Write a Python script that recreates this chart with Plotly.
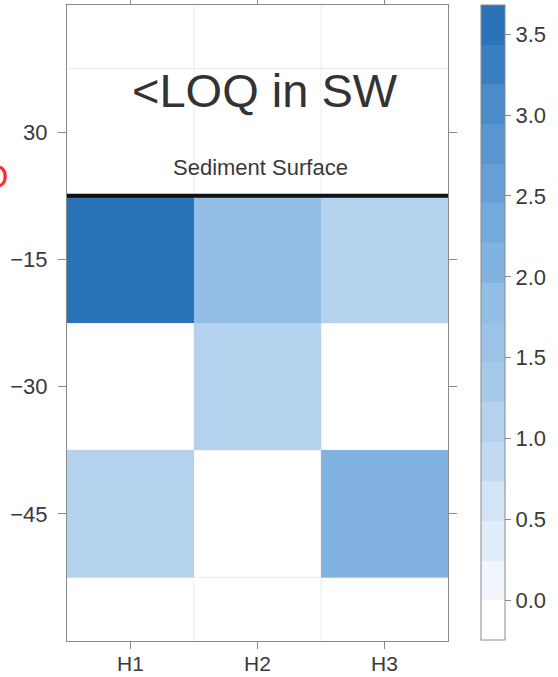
import plotly.graph_objects as go

# Sampling sites and depth levels (cm); the top level is the surface-water sample
sites = ["H1", "H2", "H3"]
depth_labels = ["−45", "−30", "−15", "30"]

# Concentrations per site, ordered by depth level (−45, −30, −15, 30); None = not detected
conc_H1 = [1.1, None, 3.5, None]
conc_H2 = [None, 1.1, 1.8, None]
conc_H3 = [2.05, None, 1.1, None]

# Colour key: 16 equal bands between these limits
z_low, z_high = -0.245, 3.68
band_colors = [
    (255, 255, 255), (240, 246, 252), (225, 237, 249), (210, 228, 245),
    (195, 219, 241), (180, 210, 237), (166, 201, 233), (156, 195, 231),
    (146, 189, 228), (130, 179, 224), (116, 170, 220), (102, 160, 214),
    (89, 150, 207), (74, 139, 200), (58, 127, 192), (42, 115, 184),
]
key_ticks = [0.0, 0.5, 1.0, 1.5, 2.0, 2.5, 3.0, 3.5]

n = len(band_colors)
colorscale = []
for i, (r, g, b) in enumerate(band_colors):
    c = f"rgb({r},{g},{b})"
    colorscale.append([i / n, c])
    colorscale.append([(i + 1) / n, c])

xs = list(range(len(sites)))
ys = list(range(len(depth_labels)))
by_site = [conc_H1, conc_H2, conc_H3]
z = [[by_site[j][i] for j in xs] for i in ys]

FONT = "Liberation Sans, Arial, Helvetica, sans-serif"
TXT = "#3a3a3a"
AX = "#8a8a8a"

fig = go.Figure()
fig.add_trace(go.Heatmap(
    x=xs, y=ys, z=z,
    zmin=z_low, zmax=z_high,
    colorscale=colorscale,
    hoverongaps=False,
    colorbar=dict(
        x=(481 - 67) / 381, xanchor="left", xpad=0,
        y=1.0, yanchor="top", ypad=0,
        lenmode="pixels", len=635,
        thickness=24,
        outlinecolor=AX, outlinewidth=1,
        tickvals=key_ticks,
        ticktext=[f"{v:.1f}" for v in key_ticks],
        ticks="outside", ticklen=6, tickcolor=AX,
        tickfont=dict(family=FONT, size=22, color=TXT),
    ),
))

# Light grid along the cell boundaries
grid = dict(color="#ececec", width=1)
shapes = []
for k in xs[:-1]:
    shapes.append(dict(type="line", xref="x", yref="y", x0=k + 0.5, x1=k + 0.5,
                       y0=-1, y1=len(ys), line=grid, layer="below"))
for k in [-0.5, 0.5, 1.5, len(ys) - 0.5]:
    shapes.append(dict(type="line", xref="x", yref="y", x0=-0.5, x1=len(xs) - 0.5,
                       y0=k, y1=k, line=grid, layer="below"))
# Sediment–water interface
surface_y = ys[-1] - 0.5
shapes.append(dict(type="line", xref="x", yref="y", x0=-0.5, x1=len(xs) - 0.5,
                   y0=surface_y, y1=surface_y, line=dict(color="#111111", width=4)))

annotations = [
    dict(x=1.06, y=3.33, xref="x", yref="y", text="&lt;LOQ in SW", showarrow=False,
         font=dict(family=FONT, size=47, color="#333333")),
    dict(x=1.02, y=2.72, xref="x", yref="y", text="Sediment Surface", showarrow=False,
         font=dict(family=FONT, size=22, color=TXT)),
    dict(x=0, y=0.731, xref="paper", yref="paper", xanchor="right", yanchor="middle",
         xshift=-57, text="O", showarrow=False,
         font=dict(family=FONT, size=34, color="#ff2a2a")),
]

fig.update_layout(
    width=558, height=677,
    margin=dict(l=67, r=110, t=5, b=36, autoexpand=False),
    plot_bgcolor="white", paper_bgcolor="white",
    shapes=shapes, annotations=annotations,
    showlegend=False,
    xaxis=dict(
        range=[-0.5, len(xs) - 0.5], tickvals=xs, ticktext=sites,
        showline=True, linecolor=AX, linewidth=1, mirror="ticks",
        ticks="outside", ticklen=7, tickcolor=AX, ticklabelstandoff=-3,
        showgrid=False, zeroline=False,
        tickfont=dict(family=FONT, size=21, color=TXT),
    ),
    yaxis=dict(
        range=[-1, len(ys)], tickvals=ys, ticktext=depth_labels,
        showline=True, linecolor=AX, linewidth=1, mirror="ticks",
        ticks="outside", ticklen=8, tickcolor=AX, ticklabelstandoff=6,
        showgrid=False, zeroline=False,
        tickfont=dict(family=FONT, size=22, color=TXT),
    ),
)

fig.write_html("out.html")
